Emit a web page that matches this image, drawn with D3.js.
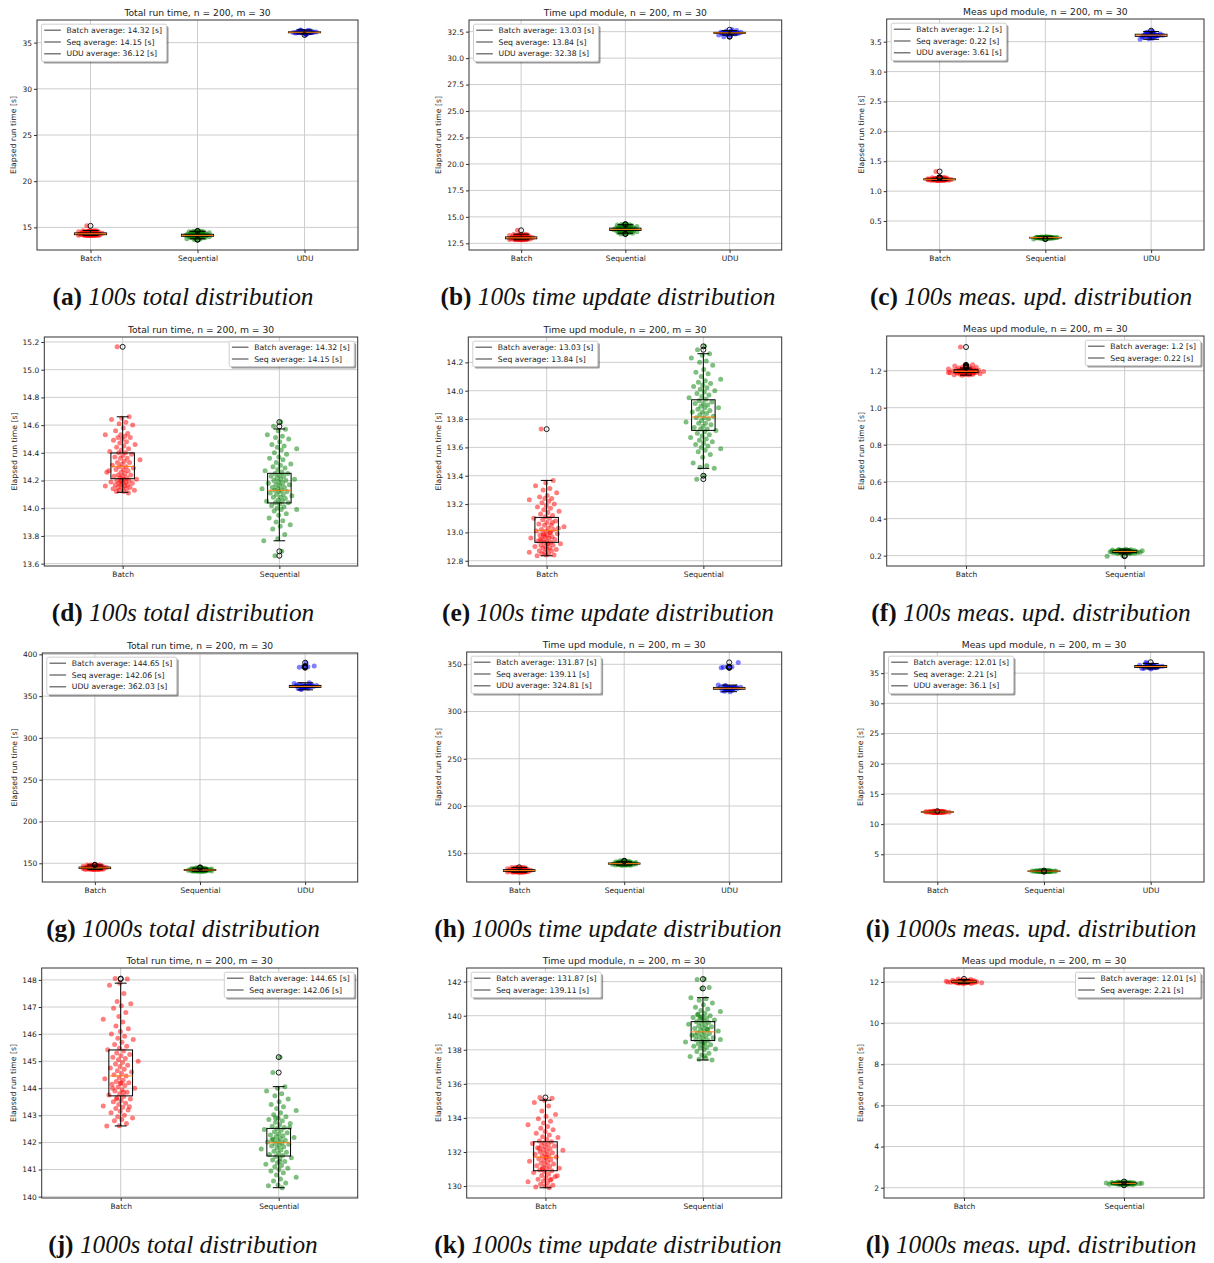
<!DOCTYPE html>
<html><head><meta charset="utf-8">
<script src="https://cdn.jsdelivr.net/npm/d3@7"></script>
<style>
body{margin:0;background:#fff;}
svg text{font-family:"DejaVu Sans",sans-serif;}
</style></head><body>
<svg id="fig" width="1214" height="1263"></svg>
<script>
// ---------------- DATA ----------------
const categories = ["Batch", "Sequential", "UDU"];
const avgNames = ["Batch", "Seq", "UDU"];

// 100 s, total run time
const total100Batch = [15.165,14.66,14.65,14.64,14.62,14.61,14.60,14.58,14.56,14.54,14.53,14.53,14.52,14.51,14.51,14.50,14.49,14.48,14.47,14.46,14.45,14.44,14.43,14.42,14.41,14.40,14.40,14.39,14.38,14.37,14.36,14.36,14.35,14.34,14.33,14.33,14.32,14.31,14.30,14.30,14.29,14.28,14.28,14.27,14.26,14.26,14.25,14.24,14.24,14.23,14.23,14.22,14.22,14.21,14.21,14.20,14.20,14.20,14.19,14.19,14.18,14.18,14.18,14.17,14.17,14.17,14.16,14.16,14.15,14.15,14.15,14.14,14.14,14.13,14.13,14.12,14.12,14.11,14.20,14.27];
const total100Seq = [14.622,14.591,14.57,14.56,14.53,14.52,14.51,14.50,14.48,14.46,14.45,14.44,14.43,14.42,14.40,14.39,14.37,14.36,14.35,14.33,14.32,14.31,14.30,14.29,14.28,14.27,14.26,14.25,14.25,14.24,14.23,14.23,14.22,14.21,14.21,14.20,14.20,14.19,14.18,14.18,14.17,14.17,14.16,14.15,14.15,14.14,14.14,14.13,14.13,14.12,14.12,14.11,14.10,14.10,14.09,14.08,14.08,14.07,14.06,14.05,14.05,14.04,14.04,14.03,14.02,14.01,14.00,13.99,13.99,13.98,13.96,13.95,13.93,13.91,13.90,13.88,13.87,13.85,13.81,13.78,13.765,13.689,13.657];
const total100UDU = [36.12,36.10,36.15,36.08,36.18,36.05,36.20,36.13,36.11,36.02,36.25,36.14,36.09,36.16,36.00,36.30,36.07,36.12,36.19,35.97,36.22,36.11,36.13,36.06,36.35,36.17,36.10,35.94,36.14,36.28,36.09,36.12,36.04,36.21,36.15,35.83,36.38,36.11,36.13,36.08];
// box stats: [q1, median, q3, lower whisker, upper whisker]
const total100BatchBox = [14.213,14.302,14.399,14.115,14.66];
const total100SeqBox = [14.038,14.129,14.252,13.765,14.572];
const total100UDUBox = [36.07,36.12,36.17,35.94,36.38];
const total100BatchOut = [15.165];
const total100SeqOut = [14.622,14.591,13.689,13.657];
const total100UDUOut = [35.83];
const total100Avg = [14.32, 14.15, 36.12];

// 100 s, time update module
const time100Batch = [13.729,13.367,13.35,13.33,13.31,13.30,13.28,13.26,13.25,13.24,13.24,13.23,13.22,13.21,13.20,13.19,13.18,13.17,13.16,13.15,13.14,13.13,13.12,13.11,13.10,13.10,13.09,13.08,13.07,13.06,13.05,13.05,13.04,13.03,13.02,13.02,13.01,13.01,13.00,12.99,12.99,12.98,12.98,12.97,12.97,12.96,12.96,12.95,12.95,12.94,12.94,12.93,12.93,12.92,12.92,12.91,12.91,12.90,12.90,12.89,12.89,12.88,12.88,12.87,12.87,12.86,12.86,12.85,12.85,12.84,12.84,12.835,13.00,12.98,13.03,12.92,12.95,13.07];
const time100Seq = [14.313,14.289,14.26,14.25,14.23,14.21,14.20,14.18,14.15,14.13,14.12,14.10,14.08,14.07,14.06,14.05,14.04,14.03,14.02,14.01,14.00,13.99,13.98,13.97,13.96,13.95,13.94,13.93,13.92,13.91,13.91,13.90,13.89,13.88,13.88,13.87,13.86,13.85,13.85,13.84,13.83,13.82,13.81,13.81,13.80,13.79,13.78,13.77,13.77,13.76,13.75,13.74,13.73,13.73,13.72,13.71,13.70,13.69,13.68,13.67,13.66,13.65,13.64,13.63,13.62,13.61,13.60,13.59,13.58,13.57,13.55,13.53,13.49,13.47,13.46,13.452,13.40,13.376];
const time100UDU = [32.38,32.40,32.35,32.42,32.30,32.45,32.37,32.39,32.28,32.50,32.36,32.41,32.33,32.44,32.25,32.55,32.38,32.40,32.32,32.47,32.22,32.60,32.37,32.43,32.34,32.39,32.18,32.52,32.41,32.36,32.05,32.02,32.68,32.40,32.35,32.45,32.30,32.38,32.42,32.37];
const time100BatchBox = [12.93,13.014,13.106,12.835,13.367];
const time100SeqBox = [13.72,13.814,13.936,13.452,14.261];
const time100UDUBox = [32.34,32.385,32.43,32.18,32.60];
const time100BatchOut = [13.729];
const time100SeqOut = [14.313,14.289,13.40,13.376];
const time100UDUOut = [32.02,32.05,32.68];
const time100Avg = [13.03, 13.84, 32.38];

// 100 s, measurement update module
const meas100Batch = [1.328,1.232,1.228,1.225,1.222,1.22,1.218,1.216,1.214,1.212,1.21,1.209,1.208,1.207,1.206,1.205,1.205,1.204,1.203,1.203,1.202,1.201,1.201,1.200,1.200,1.199,1.199,1.198,1.198,1.197,1.197,1.196,1.196,1.195,1.195,1.194,1.194,1.193,1.193,1.192,1.192,1.191,1.191,1.190,1.190,1.189,1.189,1.188,1.187,1.186,1.186,1.185,1.184,1.183,1.182,1.181,1.180,1.179,1.178,1.177,1.176,1.200,1.198,1.195,1.202,1.193,1.190,1.199,1.204,1.188];
const meas100Seq = [0.235,0.233,0.232,0.231,0.230,0.229,0.229,0.228,0.228,0.227,0.227,0.226,0.226,0.225,0.225,0.224,0.224,0.223,0.223,0.223,0.222,0.222,0.222,0.222,0.221,0.221,0.221,0.220,0.220,0.220,0.219,0.219,0.218,0.218,0.217,0.217,0.216,0.216,0.215,0.215,0.214,0.213,0.212,0.211,0.210,0.200,0.197,0.222,0.224,0.220,0.221,0.223,0.219,0.225,0.218,0.222,0.226,0.217,0.221,0.223];
const meas100UDU = [3.61,3.60,3.62,3.59,3.63,3.58,3.64,3.61,3.60,3.57,3.65,3.62,3.59,3.61,3.56,3.66,3.60,3.62,3.58,3.63,3.55,3.61,3.60,3.64,3.59,3.62,3.54,3.67,3.61,3.60,3.685,3.62,3.59,3.61,3.63,3.60,3.58,3.62,3.61,3.60];
const meas100BatchBox = [1.19,1.197,1.205,1.176,1.214];
const meas100SeqBox = [0.217,0.222,0.226,0.21,0.235];
const meas100UDUBox = [3.59,3.61,3.625,3.54,3.67];
const meas100BatchOut = [1.216,1.218,1.22,1.222,1.225,1.228,1.232,1.328];
const meas100SeqOut = [0.2,0.197];
const meas100UDUOut = [3.685];
const meas100Avg = [1.2, 0.22, 3.61];

// 1000 s, total run time
const total1000Batch = [148.05,148.03,147.88,147.80,147.50,147.20,147.12,147.05,146.95,146.80,146.65,146.55,146.45,146.30,146.20,146.10,146.00,145.92,145.85,145.80,145.70,145.62,145.55,145.48,145.42,145.38,145.30,145.25,145.20,145.15,145.10,145.05,145.00,144.95,144.90,144.85,144.80,144.75,144.70,144.65,144.60,144.55,144.50,144.45,144.40,144.35,144.30,144.25,144.20,144.18,144.15,144.10,144.05,144.00,143.95,143.90,143.85,143.80,143.75,143.70,143.65,143.60,143.55,143.50,143.45,143.40,143.35,143.30,143.25,143.20,143.15,143.10,143.00,142.95,142.90,142.85,142.80,142.70,142.62,142.61,143.85,143.60,143.32,144.20,144.00];
const total1000Seq = [145.15,144.58,144.06,144.00,143.90,143.80,143.72,143.60,143.50,143.40,143.32,143.25,143.18,143.10,143.02,142.95,142.90,142.85,142.80,142.75,142.70,142.65,142.60,142.55,142.52,142.48,142.45,142.40,142.36,142.32,142.28,142.25,142.22,142.18,142.15,142.12,142.08,142.05,142.02,141.99,141.96,141.93,141.90,141.87,141.84,141.80,141.76,141.72,141.68,141.64,141.60,141.56,141.52,141.48,141.44,141.40,141.35,141.30,141.25,141.20,141.15,141.10,141.05,141.00,140.95,140.88,140.80,140.72,140.65,140.58,140.50,140.43,140.40,140.33,142.90,142.55,141.30,142.10];
const total1000UDU = [361.6,362.0,361.0,362.5,360.5,363.0,361.8,360.0,362.2,361.4,363.5,359.5,361.2,362.8,360.8,364.0,361.5,362.3,359.0,361.9,360.3,363.2,361.7,358.5,362.6,361.1,365.0,360.6,361.3,362.1,384.0,384.5,385.0,385.5,386.0,390.0,357.8,366.0,361.6,362.4];
const total1000BatchBox = [143.72,144.455,145.415,142.61,147.88];
const total1000SeqBox = [141.5,141.99,142.52,140.33,144.06];
const total1000UDUBox = [360.5,361.6,362.8,357.5,366];
const total1000BatchOut = [148.03,148.05];
const total1000SeqOut = [144.58,145.15];
const total1000UDUOut = [384,384.5,385,385.5,386,390];
const total1000Avg = [144.65, 142.06, 362.03];

// 1000 s, time update module
const time1000Batch = [135.20,135.15,135.04,134.90,134.70,134.40,134.20,134.10,133.95,133.80,133.70,133.60,133.50,133.40,133.30,133.20,133.10,133.00,132.90,132.85,132.75,132.65,132.60,132.55,132.50,132.45,132.40,132.35,132.30,132.25,132.20,132.15,132.10,132.05,132.00,131.95,131.90,131.85,131.80,131.75,131.70,131.65,131.60,131.55,131.50,131.45,131.40,131.35,131.30,131.25,131.20,131.15,131.10,131.05,131.00,130.95,130.90,130.85,130.80,130.70,130.62,130.55,130.48,130.40,130.35,130.30,130.25,130.20,130.10,130.05,130.00,129.95,129.90,131.00,130.60,131.70,132.20,130.40];
const time1000Seq = [142.15,142.12,141.65,141.60,141.06,141.00,140.90,140.75,140.65,140.50,140.40,140.30,140.25,140.15,140.08,140.00,139.95,139.90,139.85,139.80,139.75,139.70,139.65,139.60,139.55,139.50,139.45,139.40,139.35,139.30,139.25,139.20,139.15,139.10,139.05,139.00,138.95,138.90,138.85,138.80,138.75,138.70,138.65,138.60,138.55,138.50,138.45,138.40,138.35,138.30,138.25,138.20,138.15,138.10,138.05,138.00,137.90,137.80,137.70,137.60,137.50,137.45,137.40,138.42,138.85,139.20,139.90,138.60,137.65,140.05];
const time1000UDU = [324.5,325.0,324.0,325.5,323.5,326.0,324.8,323.0,325.2,324.2,326.5,322.5,324.6,325.8,323.8,327.0,324.4,325.3,322.0,324.9,323.3,326.2,324.7,321.5,325.6,324.1,328.0,323.6,324.3,325.1,346.5,346.8,347.0,347.5,352.0,321.0,327.5,324.5,325.4,346.3];
const time1000BatchBox = [130.9,131.69,132.6,129.9,135.04];
const time1000SeqBox = [138.54,139.05,139.65,137.4,141.06];
const time1000UDUBox = [323.6,324.6,325.5,321,328];
const time1000BatchOut = [135.2];
const time1000SeqOut = [141.6,142.15];
const time1000UDUOut = [346.3,346.5,346.8,347,347.5,352];
const time1000Avg = [131.87, 139.11, 324.81];

// 1000 s, measurement update module
const meas1000Batch = [12.15,12.12,12.10,12.09,12.08,12.07,12.06,12.06,12.05,12.05,12.04,12.04,12.03,12.03,12.03,12.02,12.02,12.02,12.01,12.01,12.01,12.00,12.00,12.00,11.99,11.99,11.99,11.98,11.98,11.97,11.97,11.96,11.96,11.95,11.94,11.93,11.92,12.01,12.00,12.02,11.99,12.03,11.98,12.01,12.04,12.00,12.02,11.97,12.05,12.01];
const meas1000Seq = [2.30,2.28,2.27,2.26,2.25,2.25,2.24,2.24,2.23,2.23,2.22,2.22,2.22,2.21,2.21,2.21,2.21,2.20,2.20,2.20,2.19,2.19,2.18,2.18,2.17,2.17,2.16,2.15,2.14,2.12,2.21,2.20,2.22,2.21,2.19,2.23,2.20,2.21,2.22,2.18,2.24,2.21,2.20,2.22,2.19,2.21,2.23,2.20,2.21,2.22];
const meas1000UDU = [36.1,36.0,36.2,35.9,36.3,35.8,36.4,36.1,36.0,35.7,36.5,36.2,35.95,36.15,35.85,36.6,36.05,36.25,35.75,36.35,36.1,36.0,36.2,36.8,36.1,35.9,36.3,36.05,36.15,36.0];
const meas1000BatchBox = [11.98,12.01,12.04,11.92,12.12];
const meas1000SeqBox = [2.19,2.21,2.23,2.14,2.28];
const meas1000UDUBox = [35.95,36.1,36.25,35.7,36.6];
const meas1000BatchOut = [12.15];
const meas1000SeqOut = [2.12,2.30];
const meas1000UDUOut = [36.8];
const meas1000Avg = [12.01, 2.21, 36.1];

// tick values
const ticksA = [15,20,25,30,35];
const ticksB = [12.5,15,17.5,20,22.5,25,27.5,30,32.5];
const ticksC = [0.5,1,1.5,2,2.5,3,3.5];
const ticksD = [13.6,13.8,14.0,14.2,14.4,14.6,14.8,15.0,15.2];
const ticksE = [12.8,13.0,13.2,13.4,13.6,13.8,14.0,14.2];
const ticksF = [0.2,0.4,0.6,0.8,1.0,1.2];
const ticksG = [150,200,250,300,350,400];
const ticksH = [150,200,250,300,350];
const ticksI = [5,10,15,20,25,30,35];
const ticksJ = [140,141,142,143,144,145,146,147,148];
const ticksK = [130,132,134,136,138,140,142];
const ticksL = [2,4,6,8,10,12];

const titles = ["Total run time, n = 200, m = 30", "Time upd module, n = 200, m = 30", "Meas upd module, n = 200, m = 30"];
const captions = ["100s total distribution","100s time update distribution","100s meas. upd. distribution",
  "100s total distribution","100s time update distribution","100s meas. upd. distribution",
  "1000s total distribution","1000s time update distribution","1000s meas. upd. distribution",
  "1000s total distribution","1000s time update distribution","1000s meas. upd. distribution"];
const letters = ["a","b","c","d","e","f","g","h","i","j","k","l"];

// ---------------- LAYOUT / STYLE ----------------
const colorMap = {Batch:"#ff0000", Sequential:"#008000", UDU:"#0000ff"};
function grp(name, values, box, out){ return {name, values, box, out}; }

const G = {
  t100:[grp("Batch",total100Batch,total100BatchBox,total100BatchOut),grp("Sequential",total100Seq,total100SeqBox,total100SeqOut),grp("UDU",total100UDU,total100UDUBox,total100UDUOut)],
  u100:[grp("Batch",time100Batch,time100BatchBox,time100BatchOut),grp("Sequential",time100Seq,time100SeqBox,time100SeqOut),grp("UDU",time100UDU,time100UDUBox,time100UDUOut)],
  m100:[grp("Batch",meas100Batch,meas100BatchBox,meas100BatchOut),grp("Sequential",meas100Seq,meas100SeqBox,meas100SeqOut),grp("UDU",meas100UDU,meas100UDUBox,meas100UDUOut)],
  t1000:[grp("Batch",total1000Batch,total1000BatchBox,total1000BatchOut),grp("Sequential",total1000Seq,total1000SeqBox,total1000SeqOut),grp("UDU",total1000UDU,total1000UDUBox,total1000UDUOut)],
  u1000:[grp("Batch",time1000Batch,time1000BatchBox,time1000BatchOut),grp("Sequential",time1000Seq,time1000SeqBox,time1000SeqOut),grp("UDU",time1000UDU,time1000UDUBox,time1000UDUOut)],
  m1000:[grp("Batch",meas1000Batch,meas1000BatchBox,meas1000BatchOut),grp("Sequential",meas1000Seq,meas1000SeqBox,meas1000SeqOut),grp("UDU",meas1000UDU,meas1000UDUBox,meas1000UDUOut)]
};

const panels = [
  {rect:[37,20,358,250], ydom:[12.55,37.45], ticks:ticksA, fmt:"d", groups:G.t100, avg:total100Avg, title:0, leg:"ul"},
  {rect:[469,20,781.7,250], ydom:[11.87,33.6], ticks:ticksB, fmt:".1f", groups:G.u100, avg:time100Avg, title:1, leg:"ul"},
  {rect:[886.7,19,1204,250], ydom:[0.015,3.88], ticks:ticksC, fmt:".1f", groups:G.m100, avg:meas100Avg, title:2, leg:"ul"},
  {rect:[44.3,337,357.7,566], ydom:[13.583,15.236], ticks:ticksD, fmt:".1f", groups:G.t100.slice(0,2), avg:total100Avg, title:0, leg:"ur"},
  {rect:[468.3,337,781.7,566], ydom:[12.763,14.379], ticks:ticksE, fmt:".1f", groups:G.u100.slice(0,2), avg:time100Avg, title:1, leg:"ul"},
  {rect:[886.7,336,1204,566], ydom:[0.144,1.3876], ticks:ticksF, fmt:".1f", groups:G.m100.slice(0,2), avg:meas100Avg, title:2, leg:"ur"},
  {rect:[42.3,653,357.7,882], ydom:[127.6,401.6], ticks:ticksG, fmt:"d", groups:G.t1000, avg:total1000Avg, title:0, leg:"ul"},
  {rect:[466.7,652,781.7,882], ydom:[119.6,363], ticks:ticksH, fmt:"d", groups:G.u1000, avg:time1000Avg, title:1, leg:"ul"},
  {rect:[884,652,1204,882], ydom:[0.41,38.5], ticks:ticksI, fmt:"d", groups:G.m1000, avg:meas1000Avg, title:2, leg:"ul"},
  {rect:[41.7,968,357.7,1198], ydom:[139.95,148.44], ticks:ticksJ, fmt:"d", groups:G.t1000.slice(0,2), avg:total1000Avg, title:0, leg:"ur"},
  {rect:[466.7,968,781.7,1198], ydom:[129.3,142.8], ticks:ticksK, fmt:"d", groups:G.u1000.slice(0,2), avg:time1000Avg, title:1, leg:"ul"},
  {rect:[884,968,1204,1198], ydom:[1.5,12.68], ticks:ticksL, fmt:"d", groups:G.m1000.slice(0,2), avg:meas1000Avg, title:2, leg:"ur"}
];
const capCenters = [183, 608, 1031];
const capBaselines = [305, 621, 937, 1253];

const svg = d3.select("#fig");
const textColor = "#222";

// deterministic horizontal spread (layout only)
function spread(i, seed){
  let u = (i*0.6180339887 + seed) % 1;
  u = Math.min(0.985, Math.max(0.015, u));
  return Math.log(u/(1-u))/1.702;
}

function drawPanel(p, idx){
  const [x0,y0,x1,y1] = p.rect;
  const n = p.groups.length;
  const g = svg.append("g");
  const x = d3.scaleLinear().domain([0.5, n+0.5]).range([x0,x1]);
  const y = d3.scaleLinear().domain(p.ydom).range([y1,y0]);
  const pos = d3.range(1, n+1);
  const clipId = "clip"+idx;
  g.append("clipPath").attr("id",clipId).append("rect")
    .attr("x",x0).attr("y",y0).attr("width",x1-x0).attr("height",y1-y0);

  // grid
  g.append("g").selectAll("line").data(p.ticks).join("line")
    .attr("x1",x0).attr("x2",x1).attr("y1",d=>y(d)).attr("y2",d=>y(d))
    .attr("stroke","#cdcdcd").attr("stroke-width",1);
  g.append("g").selectAll("line").data(pos).join("line")
    .attr("x1",d=>x(d)).attr("x2",d=>x(d)).attr("y1",y0).attr("y2",y1)
    .attr("stroke","#cdcdcd").attr("stroke-width",1);

  const plot = g.append("g").attr("clip-path",`url(#${clipId})`);
  // scatter
  p.groups.forEach((gr, gi) => {
    const c = pos[gi];
    plot.append("g").selectAll("circle").data(gr.values).join("circle")
      .attr("cx",(d,i)=>x(c + 0.045*spread(i, 0.21 + gi*0.37)))
      .attr("cy",d=>y(d)).attr("r",2.5)
      .attr("fill",colorMap[gr.name]).attr("fill-opacity",0.5);
  });
  // boxplots
  const w = Math.min(0.5, Math.max(0.15, 0.15*(n-1)));
  p.groups.forEach((gr, gi) => {
    const c = pos[gi];
    const [q1, med, q3, lo, hi] = gr.box;
    const bg = plot.append("g").attr("fill","none").attr("stroke","#000").attr("stroke-width",1);
    bg.append("rect").attr("x",x(c-w/2)).attr("width",x(c+w/2)-x(c-w/2))
      .attr("y",y(q3)).attr("height",Math.max(0.3, y(q1)-y(q3)));
    bg.append("line").attr("x1",x(c)).attr("x2",x(c)).attr("y1",y(q3)).attr("y2",y(hi));
    bg.append("line").attr("x1",x(c)).attr("x2",x(c)).attr("y1",y(q1)).attr("y2",y(lo));
    bg.append("line").attr("x1",x(c-w/4)).attr("x2",x(c+w/4)).attr("y1",y(hi)).attr("y2",y(hi));
    bg.append("line").attr("x1",x(c-w/4)).attr("x2",x(c+w/4)).attr("y1",y(lo)).attr("y2",y(lo));
    plot.append("line").attr("x1",x(c-w/2)).attr("x2",x(c+w/2)).attr("y1",y(med)).attr("y2",y(med))
      .attr("stroke","#ff7f0e").attr("stroke-width",1);
    plot.append("g").selectAll("circle").data(gr.out).join("circle")
      .attr("cx",x(c)).attr("cy",d=>y(d)).attr("r",2.5)
      .attr("fill","none").attr("stroke","#000").attr("stroke-width",0.9);
  });

  // frame
  g.append("rect").attr("x",x0).attr("y",y0).attr("width",x1-x0).attr("height",y1-y0)
    .attr("fill","none").attr("stroke","#333").attr("stroke-width",1);

  // axes
  const ya = g.append("g").attr("transform",`translate(${x0},0)`)
    .call(d3.axisLeft(y).tickValues(p.ticks).tickFormat(d3.format(p.fmt)).tickSize(3).tickPadding(2));
  ya.select(".domain").remove();
  ya.attr("font-size",7.5).attr("font-family","DejaVu Sans");
  ya.selectAll("text").attr("fill",textColor);
  ya.selectAll("line").attr("stroke","#333");
  const xa = g.append("g").attr("transform",`translate(0,${y1})`)
    .call(d3.axisBottom(x).tickValues(pos).tickFormat(d=>categories[d-1]).tickSize(3).tickPadding(3));
  xa.select(".domain").remove();
  xa.attr("font-size",7.5).attr("font-family","DejaVu Sans");
  xa.selectAll("text").attr("fill",textColor);
  xa.selectAll("line").attr("stroke","#333");

  // y label
  const maxW = d3.max(ya.selectAll("text").nodes(), nd => nd.getComputedTextLength());
  const lx = x0 - 5 - maxW - 6;
  g.append("text").attr("transform",`translate(${lx},${(y0+y1)/2}) rotate(-90)`)
    .attr("text-anchor","middle").attr("font-size",7.7).attr("fill",textColor)
    .text("Elapsed run time [s]");

  // title
  g.append("text").attr("x",(x0+x1)/2).attr("y",y0-4.5).attr("text-anchor","middle")
    .attr("font-size",9.2).attr("fill",textColor).text(titles[p.title]);

  // legend
  const items = p.groups.map((gr,gi)=>`${avgNames[gi]} average: ${p.avg[gi]} [s]`);
  const lg = g.append("g");
  const rowH = 11.8;
  const texts = lg.selectAll("text").data(items).join("text")
    .attr("font-size",7.7).attr("fill",textColor).text(d=>d);
  const tw = d3.max(texts.nodes(), nd => nd.getComputedTextLength());
  const lw = 25 + tw + 4.5;
  const lh = 13.6 + (n-1)*rowH;
  const lx0 = p.leg === "ul" ? x0 + 4.5 : x1 - 3.5 - lw;
  const ly0 = y0 + 4.2;
  lg.insert("rect", "text").attr("x",lx0+2).attr("y",ly0+2).attr("width",lw).attr("height",lh)
    .attr("fill","#000").attr("fill-opacity",0.4).attr("rx",1.5);
  lg.insert("rect", "text").attr("x",lx0).attr("y",ly0).attr("width",lw).attr("height",lh)
    .attr("fill","#fff").attr("stroke","#cfcfcf").attr("stroke-width",1).attr("rx",1.5);
  texts.attr("x",lx0+25).attr("y",(d,i)=>ly0+6+i*rowH).attr("dy","0.35em");
  lg.selectAll("line").data(items).join("line")
    .attr("x1",lx0+2.7).attr("x2",lx0+19.3)
    .attr("y1",(d,i)=>ly0+6+i*rowH).attr("y2",(d,i)=>ly0+6+i*rowH)
    .attr("stroke","#5a5a5a").attr("stroke-width",1.2);
}

panels.forEach(drawPanel);

// captions
const capSel = svg.append("g").selectAll("text").data(captions).join("text")
  .attr("x",(d,i)=>capCenters[i%3]).attr("y",(d,i)=>capBaselines[Math.floor(i/3)])
  .attr("text-anchor","middle").style("font-family","'Liberation Serif', serif")
  .attr("font-size",20).attr("fill","#111");
capSel.append("tspan").attr("font-weight","bold").text((d,i)=>`(${letters[i]})`);
capSel.append("tspan").attr("font-style","italic").text(d=>" " + d);
// fit caption size to reference width of caption (b)
const refW = capSel.nodes()[1].getComputedTextLength();
const fs = 20 * 335 / refW;
capSel.attr("font-size", fs);
</script></body></html>
